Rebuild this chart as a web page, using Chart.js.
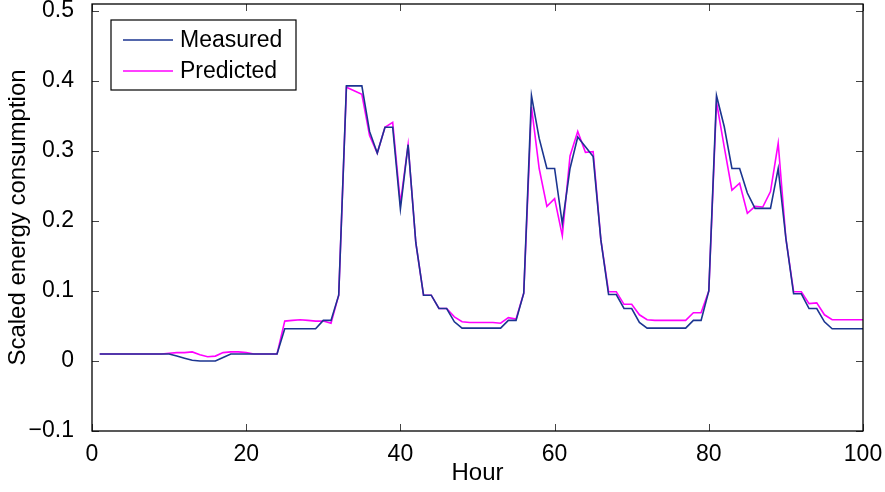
<!DOCTYPE html>
<html>
<head>
<meta charset="utf-8">
<script src="https://cdn.jsdelivr.net/npm/chart.js@4/dist/chart.umd.min.js"></script>
<style>
html, body { margin: 0; padding: 0; background: #fff; }
#wrap { width: 885px; height: 492px; }
</style>
</head>
<body>
<div id="wrap"><canvas id="chart" width="885" height="492"></canvas></div>
<script>
// hours 1..100
const hours = [];
for (let h = 1; h <= 100; h++) hours.push(h);

const measured = [
  0.01, 0.01, 0.01, 0.01, 0.01, 0.01, 0.01, 0.01, 0.01, 0.01,
  0.007, 0.004, 0.001, 0.0, 0.0, 0.0, 0.005, 0.01, 0.01, 0.01,
  0.01, 0.01, 0.01, 0.01, 0.046, 0.046, 0.046, 0.046, 0.046, 0.058,
  0.058, 0.094, 0.393, 0.393, 0.393, 0.328, 0.297, 0.334, 0.334, 0.217,
  0.309, 0.169, 0.094, 0.094, 0.075, 0.075, 0.056, 0.047, 0.047, 0.047,
  0.047, 0.047, 0.047, 0.058, 0.058, 0.097, 0.379, 0.318, 0.275, 0.275,
  0.196, 0.275, 0.32, 0.306, 0.292, 0.173, 0.095, 0.095, 0.075, 0.075,
  0.055, 0.047, 0.047, 0.047, 0.047, 0.047, 0.047, 0.058, 0.058, 0.1,
  0.379, 0.335, 0.275, 0.275, 0.24, 0.218, 0.218, 0.218, 0.275, 0.175,
  0.096, 0.096, 0.075, 0.075, 0.056, 0.046, 0.046, 0.046, 0.046, 0.046
];

const predicted = [
  0.01, 0.01, 0.01, 0.01, 0.01, 0.01, 0.01, 0.01, 0.01, 0.011,
  0.012, 0.012, 0.013, 0.009, 0.006, 0.007, 0.012, 0.013, 0.013, 0.012,
  0.01, 0.01, 0.01, 0.01, 0.057, 0.058, 0.059, 0.058, 0.057, 0.057,
  0.054, 0.094, 0.391, 0.386, 0.381, 0.322, 0.297, 0.334, 0.341, 0.225,
  0.309, 0.169, 0.094, 0.094, 0.075, 0.075, 0.063, 0.056, 0.055, 0.055,
  0.055, 0.055, 0.054, 0.062, 0.06, 0.097, 0.363, 0.275, 0.221, 0.232,
  0.179, 0.293, 0.328, 0.298, 0.299, 0.173, 0.099, 0.099, 0.081, 0.081,
  0.066, 0.059, 0.058, 0.058, 0.058, 0.058, 0.058, 0.069, 0.069, 0.1,
  0.37, 0.306, 0.244, 0.254, 0.211, 0.221, 0.22, 0.242, 0.311, 0.175,
  0.099, 0.099, 0.082, 0.083, 0.066, 0.059, 0.059, 0.059, 0.059, 0.059
];

const xTicks = [0, 20, 40, 60, 80, 100];
const yTicks = [-0.1, 0, 0.1, 0.2, 0.3, 0.4, 0.5];

const FONT = "'Liberation Sans', Arial, Helvetica, sans-serif";

function toPoints(vals){
  return vals.map((v, i) => ({ x: hours[i], y: v }));
}

/* box, inward ticks and legend drawn over the plot */
const boxPlugin = {
  id: "box",
  afterDraw(chart){
    const ctx = chart.ctx;
    const a = chart.chartArea;
    const xs = chart.scales.x, ys = chart.scales.y;
    const len = 7;
    ctx.save();
    ctx.strokeStyle = "#444";
    ctx.lineWidth = 1;
    ctx.beginPath();
    xTicks.forEach(t => {
      const px = Math.round(xs.getPixelForValue(t)) + 0.5;
      ctx.moveTo(px, a.bottom); ctx.lineTo(px, a.bottom - len);
      ctx.moveTo(px, a.top); ctx.lineTo(px, a.top + len);
    });
    yTicks.forEach(t => {
      const py = Math.round(ys.getPixelForValue(t)) + 0.5;
      ctx.moveTo(a.left, py); ctx.lineTo(a.left + len, py);
      ctx.moveTo(a.right, py); ctx.lineTo(a.right - len, py);
    });
    ctx.stroke();

    ctx.strokeStyle = "#000";
    ctx.lineWidth = 1.3;
    ctx.strokeRect(a.left, a.top, a.right - a.left, a.bottom - a.top);

    // legend
    const lx = a.left + 19, ly = a.top + 16, lw = 185, lh = 70;
    ctx.fillStyle = "#fff";
    ctx.fillRect(lx, ly, lw, lh);
    ctx.lineWidth = 1.2;
    ctx.strokeRect(lx, ly, lw, lh);
    ctx.font = "23px " + FONT;
    ctx.textBaseline = "middle";
    chart.data.datasets.forEach((ds, i) => {
      const cy = ly + 20 + i * 31;
      ctx.strokeStyle = ds.borderColor;
      ctx.lineWidth = 1.5;
      ctx.beginPath();
      ctx.moveTo(lx + 12, cy); ctx.lineTo(lx + 62, cy);
      ctx.stroke();
      ctx.fillStyle = "#000";
      ctx.fillText(ds.label, lx + 69, cy + 1);
    });
    ctx.restore();
  }
};

new Chart(document.getElementById("chart"), {
  type: "line",
  data: {
    datasets: [
      {
        label: "Measured",
        data: toPoints(measured),
        borderColor: "#1b3590",
        borderWidth: 1.6,
        pointRadius: 0,
        tension: 0
      },
      {
        label: "Predicted",
        data: toPoints(predicted),
        borderColor: "#ff00ff",
        borderWidth: 1.6,
        pointRadius: 0,
        tension: 0
      }
    ]
  },
  options: {
    responsive: false,
    animation: false,
    layout: { padding: { top: 4, right: 22, left: 0, bottom: 0 } },
    plugins: {
      legend: { display: false },
      tooltip: { enabled: false }
    },
    scales: {
      x: {
        type: "linear",
        min: 0,
        max: 100,
        afterBuildTicks: s => { s.ticks = xTicks.map(v => ({ value: v })); },
        afterFit: s => { s.height = 61; s.paddingLeft = 0; s.paddingRight = 0; },
        grid: { display: false },
        border: { display: false },
        ticks: {
          color: "#000",
          font: { family: FONT, size: 23 },
          padding: 2,
          maxRotation: 0
        },
        title: {
          display: true,
          text: "Hour",
          color: "#000",
          font: { family: FONT, size: 24 },
          padding: { top: 0, bottom: 4 }
        }
      },
      y: {
        min: -0.1,
        max: 0.51,
        afterBuildTicks: s => { s.ticks = yTicks.map(v => ({ value: v })); },
        afterFit: s => { s.width = 92; s.paddingTop = 0; s.paddingBottom = 0; },
        grid: { display: false },
        border: { display: false },
        ticks: {
          color: "#000",
          font: { family: FONT, size: 23 },
          padding: 10,
          callback: v => {
            if (Math.abs(v) < 1e-9) return "0";
            const s = Math.abs(v).toFixed(1);
            return v < 0 ? "\u2212" + s : s;
          }
        },
        title: {
          display: true,
          text: "Scaled energy consumption",
          color: "#000",
          font: { family: FONT, size: 24 },
          padding: { top: 4, bottom: 0 }
        }
      }
    }
  },
  plugins: [boxPlugin]
});
</script>
</body>
</html>
